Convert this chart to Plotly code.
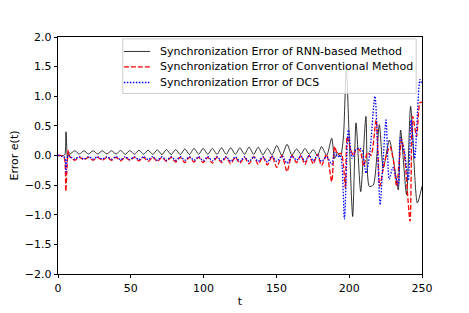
import plotly.graph_objects as go

# ---- data ----
early_t = [0, 1, 2, 3, 4, 4.8, 5.5, 6.5, 7.3]
reg_t = [8.4, 11.5, 14.7, 17.8, 21.0, 24.1, 27.3, 30.4, 33.6, 36.7, 39.9, 43.0, 46.2, 49.3,
         52.5, 55.6, 58.8, 61.9, 65.1, 68.2, 71.4, 74.5, 77.7, 80.8, 84.0, 87.1, 90.3, 93.4,
         96.6, 99.7, 102.9, 106.0, 109.2, 112.3, 115.5, 118.6, 121.8, 124.9, 128.1, 131.2,
         134.4, 137.5, 140.7, 143.8, 147.0, 150.2, 153.8, 157.3, 160.6, 163.9, 166.8, 169.6,
         172.5, 175.3, 178.2, 181.0, 184.5]

rnn_early = [0, 0, 0, 0, 0, 0.02, 0.40, -0.05, 0.06]
rnn_reg = [0.03, 0.08, 0.025, 0.08, 0.025, 0.08, 0.025, 0.08, 0.025, 0.08, 0.025, 0.085, 0.02,
           0.085, 0.02, 0.09, 0.02, 0.09, 0.02, 0.095, 0.015, 0.10, 0.015, 0.10, 0.015, 0.11,
           0.015, 0.12, 0.02, 0.12, 0.02, 0.12, 0.02, 0.13, 0.02, 0.13, 0.02, 0.13, 0.02, 0.14,
           0.02, 0.14, 0.01, 0.12, 0.01, 0.17, 0.0, 0.19, 0.01, 0.11, 0.02, 0.12, 0.02, 0.10,
           0.0, 0.15, 0.0]
rnn_chaos_t = [188, 190, 192, 194, 196, 198, 200, 202.4, 204.7, 207.9, 211.5, 213.8, 216.5,
               220.7, 223.4, 227.6, 230.5, 233.7, 235.3, 239.4, 242.2, 246.8, 250]
rnn_chaos = [0.29, -0.05, 0.05, -0.02, 0.3, 1.5, 0.3, -1.03, 0.55, -0.61, 0.66, -0.52, -0.5,
             0.52, -0.21, 0.26, -0.1, -0.58, 0.43, -0.66, 0.83, -0.8, -0.52]

conv_early_t = [0, 1, 2, 3, 4, 4.8, 5.4, 6.2, 7.0, 7.8]
conv_early = [0, 0, 0, -0.01, -0.02, -0.1, -0.6, -0.2, 0.08, 0.0]
conv_reg = [-0.03, -0.08, -0.03, -0.07, -0.03, -0.08, -0.03, -0.08, -0.03, -0.08, -0.03, -0.09,
            -0.03, -0.08, -0.03, -0.09, -0.03, -0.10, -0.03, -0.10, -0.03, -0.10, -0.03, -0.11,
            -0.03, -0.12, -0.03, -0.11, -0.03, -0.12, -0.03, -0.13, -0.03, -0.12, -0.03, -0.14,
            -0.03, -0.13, -0.03, -0.14, -0.02, -0.15, -0.02, -0.16, -0.01, -0.20, 0.0, -0.27,
            0.0, -0.12, 0.0, -0.15, 0.0, -0.14, 0.02, -0.17, 0.02]
conv_chaos_t = [188, 190, 192, 194.5, 196, 197.4, 198.6, 201, 203, 205, 207.5, 210, 212.5, 215,
                218.5, 221, 223.5, 225.5, 228, 230.5, 232.6, 236, 238, 241.8, 243.6, 246.3,
                248.6, 250]
conv_chaos = [-0.44, 0.15, 0.02, 0.04, -0.15, -0.55, 0.32, 0.1, 0.0, 0.12, 0.08, -0.18, 0.05,
              0.0, 0.6, -0.52, -0.2, 0.0, 0.15, -0.1, -0.52, 0.27, 0.0, -1.11, 0.66, 0.32, 0.89,
              0.9]

dcs_early = [0, 0, -0.01, -0.02, -0.02, -0.05, -0.28, -0.02, 0.0]
dcs_reg = [-0.02, -0.06, -0.02, -0.06, -0.02, -0.06, -0.02, -0.06, -0.02, -0.06, -0.02, -0.07,
           -0.02, -0.07, -0.02, -0.07, -0.02, -0.07, -0.02, -0.08, -0.02, -0.08, -0.02, -0.08,
           -0.02, -0.08, -0.02, -0.08, -0.02, -0.09, -0.02, -0.09, -0.02, -0.09, -0.02, -0.10,
           -0.02, -0.10, -0.02, -0.10, -0.02, -0.10, -0.02, -0.11, -0.01, -0.10, -0.01, -0.13,
           -0.01, -0.08, -0.01, -0.10, 0.0, -0.09, 0.0, -0.10, -0.02]
dcs_chaos_t = [188, 190, 192, 194, 196.7, 199.4, 202, 204.5, 207.4, 209, 211.5, 214, 217.7,
               221.2, 223, 225.3, 227.5, 230, 233.7, 235, 238, 240.6, 242.5, 245, 248.6, 250]
dcs_chaos = [-0.15, 0.05, -0.02, 0.0, -1.07, 0.43, -0.05, 0.1, 0.12, 0.08, -0.3, 0.0, 1.0,
             -0.83, -0.2, 0.6, -0.4, -0.2, -0.5, 0.3, 0.05, -0.42, 0.6, -0.05, 1.28, 1.2]

names = ["Synchronization Error of RNN-based Method",
         "Synchronization Error of Conventional Method",
         "Synchronization Error of DCS"]
colors = ["black", "#ff0000", "#0000ff"]
widths = [0.8, 1.3, 1.3]
dashes = ["solid", "5px,2px", "1.5px,1.5px"]

x_ticks = [0, 50, 100, 150, 200, 250]
y_ticks = [-2.0, -1.5, -1.0, -0.5, 0.0, 0.5, 1.0, 1.5, 2.0]
y_tick_text = ["−2.0", "−1.5", "−1.0", "−0.5", "0.0", "0.5", "1.0", "1.5", "2.0"]

FONT = "DejaVu Sans"
FS = 11

series_x = [early_t + reg_t + rnn_chaos_t, conv_early_t + reg_t + conv_chaos_t, early_t + reg_t + dcs_chaos_t]
series_y = [rnn_early + rnn_reg + rnn_chaos, conv_early + conv_reg + conv_chaos, dcs_early + dcs_reg + dcs_chaos]

fig = go.Figure()
for i in range(3):
    fig.add_trace(go.Scatter(x=series_x[i], y=series_y[i], mode="lines", name=names[i],
                             showlegend=False,
                             line=dict(color=colors[i], width=widths[i], dash=dashes[i],
                                       shape="spline", smoothing=0.7)))

# legend drawn in paper coordinates (matplotlib-style box)
shapes = [dict(type="rect", xref="paper", yref="paper", x0=0.178, x1=0.984, y0=0.762, y1=0.992,
               fillcolor="rgba(255,255,255,0.8)", line=dict(color="#cccccc", width=1), layer="above")]
annotations = []
row_y = [0.939, 0.874, 0.808]
for i in range(3):
    shapes.append(dict(type="line", xref="paper", yref="paper", x0=0.181, x1=0.253,
                       y0=row_y[i], y1=row_y[i], layer="above",
                       line=dict(color=colors[i], width=widths[i], dash=dashes[i])))
    annotations.append(dict(xref="paper", yref="paper", x=0.2747, y=row_y[i], text=names[i],
                            showarrow=False, xanchor="left", yanchor="middle",
                            font=dict(family=FONT, size=FS, color="black")))

axis_common = dict(showgrid=False, zeroline=False, showline=True, linecolor="black", linewidth=0.8,
                   mirror=True, ticks="outside", ticklen=3.5, tickwidth=0.8, tickcolor="black",
                   automargin=False, tickfont=dict(family=FONT, size=FS, color="black"))

fig.update_layout(
    width=469, height=313,
    margin=dict(l=50, r=55, t=29, b=47),
    paper_bgcolor="white", plot_bgcolor="white",
    font=dict(family=FONT, size=FS, color="black"),
    showlegend=False,
    shapes=shapes, annotations=annotations,
    xaxis=dict(range=[0, 250], tickvals=x_ticks, ticktext=[str(v) for v in x_ticks],
               title=dict(text="t", font=dict(family=FONT, size=FS), standoff=3), **axis_common),
    yaxis=dict(range=[-2, 2], tickvals=y_ticks, ticktext=y_tick_text,
               title=dict(text="Error e(t)", font=dict(family=FONT, size=FS), standoff=6), **axis_common),
)

fig.write_html("out.html")
